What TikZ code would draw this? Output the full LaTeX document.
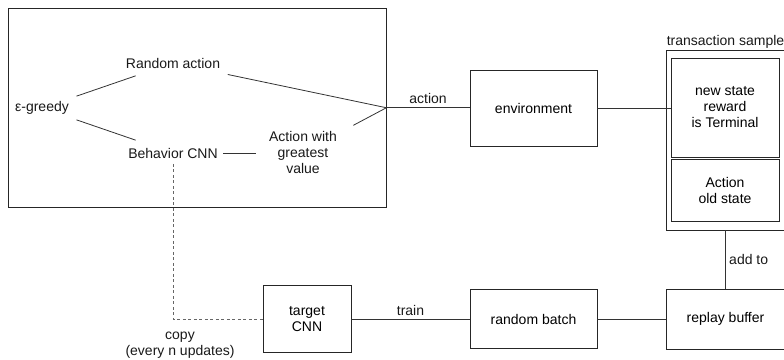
\documentclass[tikz,border=0pt]{standalone}
\usepackage{fontspec}
\setmainfont{Liberation Sans}
\begin{document}
\begin{tikzpicture}[x=1pt,y=-1pt,
  font=\fontsize{14}{16}\selectfont,
  box/.style={draw=black!85, line width=0.8pt, align=center, inner sep=0pt},
  txt/.style={align=center, inner xsep=7.5pt, inner ysep=7.5pt, text=black!90},
  conn/.style={draw=black!80, line width=0.8pt},
  dashline/.style={draw=black!60, line width=0.8pt, dash pattern=on 3pt off 2.5pt},
  lbl/.style={text=black!90}
]
\useasboundingbox (0,0) rectangle (784,359);
\clip (0,0) rectangle (784,359);

% agent box
\node[box, minimum width=378pt, minimum height=198.5pt] (agent) at (197,107.75) {};
\node[txt] (eps) at (42,108) {ε-greedy};
\node[txt] (rand) at (173,63) {Random action};
\node[txt] (beh) at (173,153) {Behavior CNN};
\node[txt] (awgv) at (303,152) {Action with\\greatest\\value};
\coordinate (meet) at (agent.east);

% environment and transaction sample
\node[box, minimum width=127pt, minimum height=76pt] (env) at (533.5,108) {environment};
\node[box, minimum width=119pt, minimum height=180pt] (ts) at (725.5,140) {};
\node[lbl, anchor=base] (tslabel) at (725.5,45.5) {transaction sample};
\node[box, minimum width=108pt, minimum height=99pt] (news) at (725,107.5) {new state\\reward\\is Terminal};
\node[box, minimum width=108pt, minimum height=62pt] (olds) at (725,190) {Action\\old state};

% bottom row
\node[box, minimum width=119pt, minimum height=60pt] (rb) at (725.5,319) {replay buffer};
\node[box, minimum width=127pt, minimum height=59pt] (rbatch) at (533.5,319) {random batch};
\node[box, minimum width=88pt, minimum height=67pt] (tcnn) at (307,319) {target\\CNN};
\node[lbl, align=center] (copy) at (180,345) {copy\\(every n updates)};

% connectors
\draw[conn] (eps) -- (rand);
\draw[conn] (eps) -- (beh);
\draw[conn] (rand) -- (meet);
\draw[conn, shorten <=10pt] (awgv) -- (meet);
\draw[conn, shorten <=-2pt, shorten >=5pt] (beh.east) -- (beh.east -| awgv.west);
\draw[conn] (meet) -- node[lbl, above] (actlbl) {action} (meet -| env.west);
\draw[conn] (env.east) -- (env.east -| news.west);
\draw[conn] (ts.south) -- node[lbl, right] (addlbl) {add to} (ts.south |- rb.north);
\draw[conn] (rb.west) -- (rbatch.east);
\draw[conn] (rbatch.west) -- node[lbl, above] (trainlbl) {train} (tcnn.east);
\draw[dashline, shorten <=-2pt] (beh.south) |- (tcnn.west);
\end{tikzpicture}
\end{document}
